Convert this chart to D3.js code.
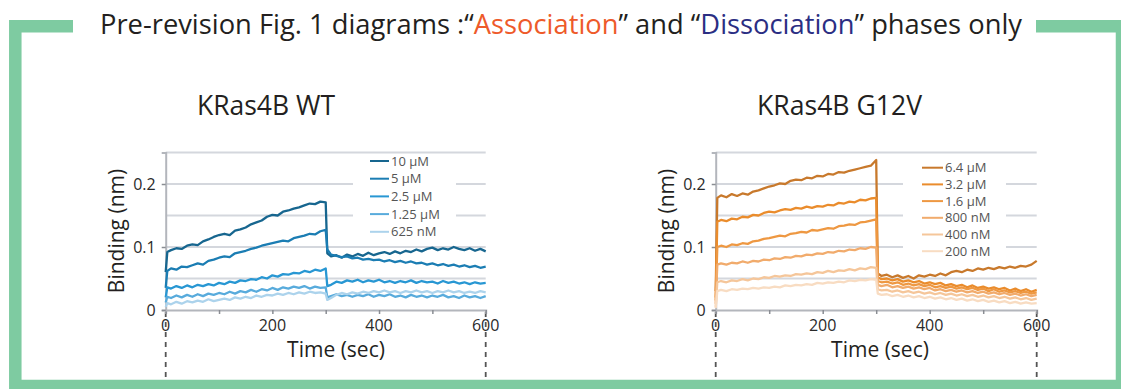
<!DOCTYPE html>
<html><head><meta charset="utf-8">
<script src="https://cdn.jsdelivr.net/npm/d3@7"></script>
<style>html,body{margin:0;padding:0;background:#fff}svg{display:block}</style>
</head><body>
<svg id="c" width="1121" height="389"></svg>
<script>
// ---------- DATA ----------
const times = [0,3,10,20,30,40,50,60,70,80,90,100,110,120,130,140,150,160,170,180,190,200,210,220,230,240,250,260,270,280,290,300,
  303,310,320,330,340,350,360,370,380,390,400,410,420,430,440,450,460,470,480,490,500,510,520,530,540,550,560,570,580,590,600];

const wtLabels = ["10 μM","5 μM","2.5 μM","1.25 μM","625 nM"];
const wt10 = [0.060,0.092,0.095,0.098,0.097,0.102,0.104,0.103,0.109,0.112,0.116,0.119,0.121,0.119,0.126,0.128,0.131,0.136,0.139,0.142,0.148,0.151,0.150,0.156,0.158,0.161,0.163,0.166,0.169,0.168,0.172,0.171,
  0.090,0.085,0.087,0.083,0.088,0.085,0.089,0.086,0.091,0.087,0.090,0.092,0.089,0.093,0.090,0.094,0.092,0.096,0.093,0.097,0.099,0.095,0.098,0.096,0.100,0.097,0.095,0.098,0.094,0.097,0.093];
const wt5 = [0.035,0.062,0.066,0.064,0.069,0.068,0.071,0.074,0.072,0.078,0.080,0.083,0.085,0.084,0.090,0.092,0.094,0.097,0.099,0.102,0.104,0.106,0.108,0.110,0.109,0.114,0.116,0.118,0.121,0.120,0.125,0.127,
  0.096,0.088,0.086,0.084,0.085,0.082,0.083,0.080,0.081,0.079,0.080,0.077,0.079,0.076,0.078,0.075,0.077,0.074,0.075,0.072,0.074,0.071,0.073,0.070,0.072,0.069,0.071,0.068,0.070,0.067,0.069];
const wt25 = [0.020,0.036,0.034,0.038,0.035,0.039,0.036,0.040,0.038,0.041,0.039,0.043,0.041,0.045,0.043,0.047,0.046,0.049,0.048,0.052,0.050,0.055,0.053,0.057,0.056,0.059,0.058,0.062,0.060,0.064,0.062,0.066,
  0.038,0.040,0.045,0.043,0.047,0.045,0.048,0.044,0.047,0.045,0.048,0.044,0.046,0.043,0.046,0.044,0.047,0.043,0.046,0.044,0.045,0.042,0.046,0.043,0.045,0.042,0.044,0.041,0.044,0.042,0.043];
const wt125 = [0.012,0.021,0.019,0.023,0.020,0.024,0.021,0.025,0.022,0.026,0.024,0.027,0.025,0.029,0.026,0.030,0.028,0.032,0.029,0.033,0.031,0.035,0.032,0.036,0.034,0.037,0.035,0.038,0.034,0.037,0.035,0.036,
  0.020,0.022,0.025,0.022,0.024,0.021,0.024,0.022,0.025,0.021,0.024,0.022,0.025,0.021,0.023,0.020,0.024,0.021,0.023,0.020,0.023,0.021,0.024,0.020,0.022,0.019,0.023,0.020,0.022,0.019,0.022];
const wt625 = [0.005,0.011,0.009,0.013,0.010,0.014,0.012,0.015,0.013,0.017,0.014,0.016,0.018,0.016,0.020,0.018,0.021,0.019,0.023,0.021,0.024,0.023,0.026,0.024,0.027,0.025,0.028,0.026,0.029,0.027,0.028,0.026,
  0.016,0.019,0.024,0.027,0.025,0.028,0.026,0.029,0.027,0.030,0.028,0.031,0.028,0.030,0.027,0.030,0.028,0.031,0.028,0.030,0.027,0.030,0.028,0.031,0.028,0.030,0.027,0.029,0.027,0.030,0.028];

const gvLabels = ["6.4 μM","3.2 μM","1.6 μM","800 nM","400 nM","200 nM"];
const gv64 = [0.030,0.178,0.182,0.179,0.184,0.181,0.185,0.183,0.188,0.190,0.193,0.196,0.198,0.201,0.200,0.205,0.207,0.206,0.210,0.209,0.213,0.212,0.216,0.215,0.219,0.218,0.221,0.223,0.225,0.227,0.229,0.238,
  0.058,0.054,0.056,0.052,0.055,0.051,0.054,0.050,0.055,0.053,0.056,0.054,0.058,0.055,0.060,0.062,0.060,0.064,0.062,0.066,0.064,0.067,0.065,0.068,0.066,0.069,0.067,0.070,0.069,0.072,0.078];
const gv32 = [0.020,0.140,0.143,0.141,0.145,0.144,0.148,0.147,0.151,0.150,0.154,0.156,0.155,0.158,0.160,0.159,0.162,0.161,0.164,0.162,0.165,0.164,0.167,0.166,0.170,0.169,0.172,0.171,0.175,0.174,0.177,0.178,
  0.052,0.049,0.050,0.047,0.049,0.045,0.047,0.044,0.046,0.042,0.044,0.041,0.043,0.039,0.041,0.038,0.040,0.036,0.039,0.035,0.037,0.034,0.036,0.033,0.035,0.031,0.034,0.030,0.033,0.029,0.032];
const gv16 = [0.015,0.100,0.102,0.100,0.104,0.103,0.106,0.105,0.109,0.110,0.113,0.114,0.116,0.118,0.117,0.121,0.122,0.124,0.123,0.127,0.126,0.128,0.130,0.129,0.133,0.134,0.136,0.135,0.139,0.140,0.142,0.144,
  0.046,0.044,0.045,0.042,0.044,0.040,0.042,0.039,0.041,0.038,0.040,0.036,0.038,0.035,0.037,0.034,0.036,0.033,0.035,0.032,0.034,0.030,0.033,0.029,0.031,0.028,0.030,0.027,0.029,0.026,0.028];
const gv800 = [0.010,0.072,0.074,0.072,0.075,0.074,0.077,0.075,0.078,0.077,0.080,0.079,0.082,0.081,0.084,0.083,0.086,0.085,0.088,0.087,0.090,0.089,0.092,0.091,0.094,0.093,0.096,0.095,0.098,0.097,0.100,0.099,
  0.040,0.038,0.040,0.036,0.038,0.035,0.037,0.034,0.036,0.033,0.035,0.031,0.033,0.030,0.032,0.029,0.031,0.028,0.030,0.027,0.029,0.026,0.028,0.025,0.027,0.024,0.026,0.023,0.025,0.022,0.024];
const gv400 = [0.005,0.044,0.046,0.044,0.047,0.046,0.049,0.047,0.050,0.049,0.052,0.051,0.054,0.053,0.055,0.054,0.057,0.056,0.058,0.057,0.060,0.059,0.062,0.060,0.063,0.062,0.065,0.063,0.066,0.065,0.068,0.067,
  0.033,0.031,0.032,0.029,0.031,0.028,0.030,0.027,0.029,0.026,0.028,0.025,0.027,0.024,0.026,0.023,0.025,0.022,0.024,0.021,0.023,0.020,0.022,0.019,0.021,0.018,0.020,0.017,0.019,0.016,0.018];
const gv200 = [0.003,0.030,0.032,0.030,0.033,0.032,0.034,0.033,0.035,0.034,0.036,0.035,0.037,0.036,0.039,0.038,0.040,0.039,0.041,0.040,0.043,0.042,0.044,0.043,0.045,0.044,0.047,0.046,0.048,0.047,0.049,0.048,
  0.026,0.024,0.025,0.022,0.024,0.021,0.023,0.020,0.022,0.019,0.021,0.018,0.020,0.017,0.019,0.016,0.018,0.015,0.017,0.014,0.016,0.013,0.015,0.012,0.014,0.011,0.013,0.010,0.012,0.010,0.011];

const yTicks = [0, 0.1, 0.2];
const xTicks = [0, 200, 400, 600];

// ---------- STYLE / LAYOUT ----------
const wtColors = ["#17668f","#1b7db3","#2897d3","#58abdc","#acd3ec"];
const gvColors = ["#c8792c","#ea8c2c","#ee9842","#f1ab6c","#f5c69a","#f8dcc2"];
const FONT = "'Open Sans', 'Noto Sans', sans-serif";

const svg = d3.select("#c");
svg.append("rect").attr("width",1121).attr("height",389).attr("fill","#fff");

// green frame
svg.append("path")
  .attr("d","M73,26.3 H15.3 V386 H1122 V26.3 H1036")
  .attr("fill","none").attr("stroke","#7ecba1").attr("stroke-width",12.5);

// main title
const title = svg.append("text").attr("x",100).attr("y",34)
  .attr("font-family",FONT).attr("font-size",26.5).attr("fill","#231f20")
  .attr("textLength",922).attr("lengthAdjust","spacingAndGlyphs");
title.append("tspan").text("Pre-revision Fig. 1 diagrams :“");
title.append("tspan").attr("fill","#ee5a2a").text("Association");
title.append("tspan").text("” and “");
title.append("tspan").attr("fill","#2b2e83").text("Dissociation");
title.append("tspan").text("” phases only");

function drawChart(cfg){
  const x = d3.scaleLinear().domain([0,600]).range([cfg.x0, cfg.x1]);
  const y = d3.scaleLinear().domain([0,0.25]).range([310, 152.5]);
  const g = svg.append("g");

  // subtitle
  g.append("text").attr("x",cfg.titleX).attr("y",115).attr("font-family",FONT)
    .attr("font-size",27).attr("fill","#231f20")
    .attr("textLength",cfg.titleW).attr("lengthAdjust","spacingAndGlyphs").text(cfg.title);

  // gridlines
  g.append("g").selectAll("line").data([0.05,0.1,0.15,0.2,0.25]).join("line")
    .attr("x1",cfg.x0).attr("x2",cfg.x1).attr("y1",d=>y(d)).attr("y2",d=>y(d))
    .attr("stroke","#d4d7dd").attr("stroke-width",2);

  // dashed guides
  g.append("g").selectAll("line").data([0,600]).join("line")
    .attr("x1",d=>x(d)).attr("x2",d=>x(d)).attr("y1",312).attr("y2",381)
    .attr("stroke","#555").attr("stroke-width",1.8).attr("stroke-dasharray","5,5");

  // x axis
  const xa = g.append("g").attr("transform","translate(0,310)")
    .call(d3.axisBottom(x).tickValues([0,100,200,300,400,500,600]).tickSize(4).tickFormat(""));
  xa.select(".domain").attr("stroke","#b3b6bc").attr("stroke-width",2);
  xa.selectAll(".tick line").attr("stroke","#8a8d93").attr("stroke-width",1.5);
  g.append("g").selectAll("text").data(xTicks).join("text")
    .attr("x",d=>x(d)).attr("y",331).attr("text-anchor","middle")
    .attr("font-family",FONT).attr("font-size",16).attr("fill","#2a2a2a").text(d=>d);

  // y axis
  const ya = g.append("g").attr("transform",`translate(${cfg.x0},0)`)
    .call(d3.axisLeft(y).tickValues(yTicks).tickSize(4).tickFormat(""));
  ya.select(".domain").attr("stroke","#b3b6bc").attr("stroke-width",2);
  ya.selectAll(".tick line").attr("stroke","#8a8d93").attr("stroke-width",1.5);
  g.append("g").selectAll("text").data(yTicks).join("text")
    .attr("x",cfg.x0-10).attr("y",d=>y(d)).attr("dy","0.35em").attr("text-anchor","end")
    .attr("font-family",FONT).attr("font-size",16).attr("fill","#2a2a2a").text(d=>d===0?"0":d.toFixed(1));

  // axis titles
  g.append("text").attr("x",cfg.xlabX).attr("y",357).attr("text-anchor","middle")
    .attr("font-family",FONT).attr("font-size",21).attr("fill","#231f20").text("Time (sec)");
  g.append("text").attr("transform",`translate(${cfg.x0-42},231) rotate(-90)`).attr("text-anchor","middle")
    .attr("font-family",FONT).attr("font-size",21).attr("fill","#231f20").text("Binding (nm)");

  // legend background
  g.append("rect").attr("x",cfg.lgBox[0]).attr("y",cfg.lgBox[1]).attr("width",cfg.lgBox[2]).attr("height",cfg.lgBox[3]).attr("fill","#fff");

  // series
  const line = d3.line().x((d,i)=>x(times[i])).y(d=>y(d));
  g.append("g").selectAll("path").data(cfg.series).join("path")
    .attr("d",d=>line(d)).attr("fill","none")
    .attr("stroke",(d,i)=>cfg.colors[i]).attr("stroke-width",2.3).attr("stroke-linejoin","round");

  // legend
  const lg = g.append("g").selectAll("g").data(cfg.labels).join("g")
    .attr("transform",(d,i)=>`translate(${cfg.lgX},${cfg.lgY + i*cfg.lgStep})`);
  lg.append("line").attr("x1",0).attr("x2",cfg.lgLen).attr("stroke",(d,i)=>cfg.colors[i]).attr("stroke-width",2);
  lg.append("text").attr("x",cfg.lgLen+2).attr("dy","0.35em").attr("font-family",FONT)
    .attr("font-size",13).attr("fill","#555").text(d=>d);
}

drawChart({x0:165.7, x1:485.7, title:"KRas4B WT", titleX:197, titleW:138, xlabX:336,
  series:[wt10,wt5,wt25,wt125,wt625], labels:wtLabels, colors:wtColors,
  lgBox:[353,156,103,87], lgX:370, lgY:161, lgStep:17.7, lgLen:19});
drawChart({x0:715.7, x1:1036.7, title:"KRas4B G12V", titleX:757, titleW:165, xlabX:880,
  series:[gv64,gv32,gv16,gv800,gv400,gv200], labels:gvLabels, colors:gvColors,
  lgBox:[903,158,103,101], lgX:922, lgY:167.7, lgStep:16.7, lgLen:21});
</script>
</body></html>
